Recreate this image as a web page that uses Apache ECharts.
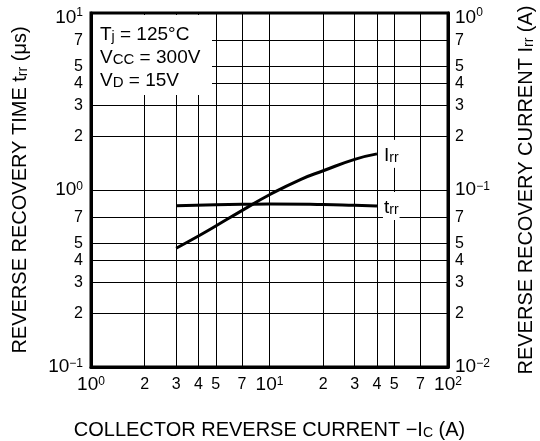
<!DOCTYPE html>
<html>
<head>
<meta charset="utf-8">
<script src="https://cdn.jsdelivr.net/npm/echarts@6/dist/echarts.min.js"></script>
<style>
	html, body { margin: 0; padding: 0; background: #fff; }
	#chart { width: 540px; height: 441px; }
</style>
</head>
<body>
<div id="chart"></div>
<script>
// tick positions (log axes, only 2 3 4 5 7 between decades)
const collectorTicks = [1, 2, 3, 4, 5, 7, 10, 20, 30, 40, 50, 70, 100]
const timeTicks = [0.1, 0.2, 0.3, 0.4, 0.5, 0.7, 1, 2, 3, 4, 5, 7, 10]
const irrTicks = [0.01, 0.02, 0.03, 0.04, 0.05, 0.07, 0.1, 0.2, 0.3, 0.4, 0.5, 0.7, 1]

// Irr (A) vs -Ic (A)
const irrCurrent = [3, 4, 5, 7, 10, 15, 20, 30, 40]
const irrValues = [0.0469, 0.055, 0.0626, 0.0765, 0.094, 0.115, 0.1285, 0.149, 0.16]

// trr (us) vs -Ic (A)
const trrCurrent = [3, 5, 7, 10, 20, 30, 40]
const trrValues = [0.815, 0.825, 0.83, 0.834, 0.828, 0.819, 0.812]

const FONT = 'Liberation Sans, Arial, sans-serif'

const pairs = (xs, ys) => xs.map((x, i) => [x, ys[i]])

// formatter factory: the label at the top of an axis sits a bit lower
const tickLabel = topValue => v => {
	const p = Math.round(Math.log10(v))
	if (Math.abs(v - Math.pow(10, p)) < 1e-6 * Math.pow(10, p)) {
		const exp = p < 0 ? '\u2212' + -p : String(p)
		if (topValue && Math.abs(v - topValue) < 1e-9) {
			return '{bigTop|10}{supTop|' + exp + '}'
		}
		return '{big|10}{sup|' + exp + '}'
	}
	const m = Math.round(v / Math.pow(10, Math.floor(Math.log10(v) + 1e-9)))
	return '{small|' + m + '}'
}

const labelRich = {
	big: { fontSize: 19, fontFamily: FONT, color: '#000', lineHeight: 18 },
	sup: { fontSize: 12, fontFamily: FONT, color: '#000', verticalAlign: 'top', lineHeight: 11 },
	bigTop: { fontSize: 19, fontFamily: FONT, color: '#000', lineHeight: 18, verticalAlign: 'bottom' },
	supTop: { fontSize: 12, fontFamily: FONT, color: '#000', lineHeight: 29, verticalAlign: 'middle' },
	small: { fontSize: 16, fontFamily: FONT, color: '#000', lineHeight: 18 }
}

// small capitals sitting on the baseline (trr, Irr, Ic)
const nameRich = {
	n: { fontSize: 20, fontFamily: FONT, color: '#000', lineHeight: 24, verticalAlign: 'bottom' },
	s: { fontSize: 14, fontFamily: FONT, color: '#000', lineHeight: 21, verticalAlign: 'bottom' }
}

const endRich = {
	n: { fontSize: 19, fontFamily: FONT, color: '#000', lineHeight: 22, verticalAlign: 'bottom' },
	s: { fontSize: 14, fontFamily: FONT, color: '#000', lineHeight: 19, verticalAlign: 'bottom' }
}

const chart = echarts.init(document.getElementById('chart'), null, { renderer: 'canvas' })

chart.setOption({
	animation: false,
	backgroundColor: '#fff',
	textStyle: { fontFamily: FONT, color: '#000' },
	grid: {
		left: 91,
		right: 92,
		top: 13,
		bottom: 74,
		show: true,
		borderColor: '#000',
		borderWidth: 3,
		outerBoundsMode: 'none'
	},
	xAxis: {
		type: 'log',
		logBase: 10,
		min: 1,
		max: 100,
		name: '{n|COLLECTOR REVERSE CURRENT \u2212I}{s|C}{n| (A)}',
		nameLocation: 'middle',
		nameGap: 49,
		nameMoveOverlap: false,
		nameTextStyle: { rich: nameRich },
		axisLine: { show: true, lineStyle: { color: '#000', width: 3 } },
		axisTick: { show: false, customValues: collectorTicks },
		axisLabel: {
			customValues: collectorTicks,
			margin: 9,
			formatter: tickLabel(null),
			rich: labelRich
		},
		splitLine: { show: true, lineStyle: { color: '#000', width: 1 } },
		minorTick: { show: false },
		minorSplitLine: { show: false }
	},
	yAxis: [
		{
			type: 'log',
			logBase: 10,
			min: 0.1,
			max: 10,
			position: 'left',
			name: '{n|REVERSE RECOVERY TIME t}{s|rr}{n| (\u03bcs)}',
			nameLocation: 'middle',
			nameRotate: 90,
			nameGap: 61,
			nameMoveOverlap: false,
			nameTextStyle: { rich: nameRich },
			axisLine: { show: true, lineStyle: { color: '#000', width: 3 } },
			axisTick: { show: false, customValues: timeTicks },
			axisLabel: {
				customValues: timeTicks,
				margin: 8,
				formatter: tickLabel(10),
				rich: labelRich
			},
			splitLine: { show: true, lineStyle: { color: '#000', width: 1 } }
		},
		{
			type: 'log',
			logBase: 10,
			min: 0.01,
			max: 1,
			position: 'right',
			name: '{n|REVERSE RECOVERY CURRENT I}{s|rr}{n| (A)}',
			nameLocation: 'middle',
			nameRotate: 90,
			nameGap: 64,
			nameMoveOverlap: false,
			nameTextStyle: { rich: nameRich },
			axisLine: { show: true, lineStyle: { color: '#000', width: 3 } },
			axisTick: { show: false, customValues: irrTicks },
			axisLabel: {
				customValues: irrTicks,
				margin: 7,
				formatter: tickLabel(1),
				rich: labelRich
			},
			splitLine: { show: false }
		}
	],
	graphic: [
		{
			type: 'rect',
			z: 50,
			shape: { x: 93, y: 15, width: 119, height: 80 },
			style: { fill: '#fff' }
		},
		{
			type: 'text',
			z: 51,
			left: 100,
			top: 25,
			style: {
				text: '{a|T}{b|j}{a| = 125\u00b0C}\n{a|V}{c|CC}{a| = 300V}\n{a|V}{c|D}{a| = 15V}',
				rich: {
					a: { fontSize: 19, fontFamily: FONT, fill: '#000', lineHeight: 23, verticalAlign: 'bottom' },
					b: { fontSize: 14, fontFamily: FONT, fill: '#000', lineHeight: 23, verticalAlign: 'bottom' },
					c: { fontSize: 15, fontFamily: FONT, fill: '#000', lineHeight: 20, verticalAlign: 'bottom' }
				}
			}
		}
	],
	series: [
		{
			name: 'Irr',
			type: 'line',
			yAxisIndex: 1,
			data: pairs(irrCurrent, irrValues),
			smooth: true,
			symbol: 'none',
			lineStyle: { color: '#000', width: 3 },
			endLabel: {
				show: true,
				distance: 6,
				formatter: '{n|I}{s|rr}',
				backgroundColor: '#fff',
				padding: [3, 1, 3, 1],
				rich: endRich
			}
		},
		{
			name: 'trr',
			type: 'line',
			yAxisIndex: 0,
			data: pairs(trrCurrent, trrValues),
			smooth: true,
			symbol: 'none',
			lineStyle: { color: '#000', width: 3 },
			endLabel: {
				show: true,
				distance: 6,
				formatter: '{n|t}{s|rr}',
				backgroundColor: '#fff',
				padding: [3, 1, 3, 1],
				rich: endRich
			}
		}
	]
})
</script>
</body>
</html>
